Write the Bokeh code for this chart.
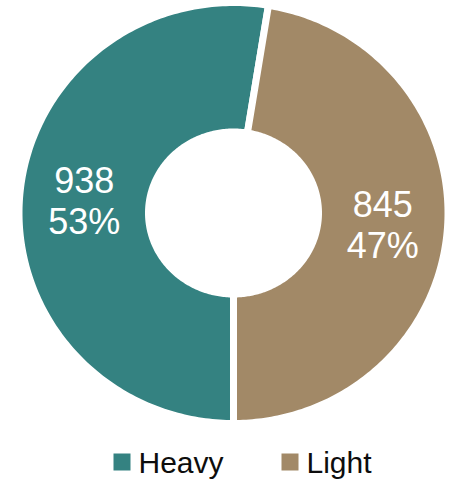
import numpy as np
from bokeh.plotting import figure
from bokeh.models import Range1d
from bokeh.core.properties import value
from bokeh.embed import file_html
from bokeh.resources import INLINE

categories = ["Heavy", "Light"]
counts = [938, 845]
colors = ["#348281", "#A28967"]

W, H = 450, 481
cx, cy = 233, 212.5
GAP = 7
rx_out, ry_out = 211 + GAP / 2, 207 + GAP / 2
rx_in, ry_in = 88.5 - GAP / 2, 84.5 - GAP / 2
start_deg = 180.0  # first slice starts at bottom, clockwise

LBL_FS = 36
LEG_FS = 30
SHIFT = 0.35  # baseline correction in em

p = figure(width=W, height=H, output_backend="svg", toolbar_location=None,
           x_range=Range1d(0, W), y_range=Range1d(H, 0), min_border=0)
p.axis.visible = False
p.grid.visible = False
p.outline_line_color = None
p.background_fill_color = "white"
p.border_fill_color = "white"

total = sum(counts)
a0 = start_deg
label_pos = []
for cat, v, col in zip(categories, counts, colors):
    span = 360.0 * v / total
    th = np.radians(np.linspace(a0, a0 + span, 200))
    xs_o = cx + rx_out * np.sin(th)
    ys_o = cy - ry_out * np.cos(th)
    xs_i = cx + rx_in * np.sin(th[::-1])
    ys_i = cy - ry_in * np.cos(th[::-1])
    xs = np.concatenate([xs_o, xs_i])
    ys = np.concatenate([ys_o, ys_i])
    p.patch(xs, ys, fill_color=col, line_color="white", line_width=GAP, line_join="miter")
    mid = np.radians(a0 + span / 2)
    rm_x = (211 + 88.5) / 2
    rm_y = (207 + 84.5) / 2
    label_pos.append((cx + rm_x * np.sin(mid), cy - rm_y * np.cos(mid)))
    a0 += span

for (lx, ly), v in zip(label_pos, counts):
    pct = f"{round(100 * v / total)}%"
    for txt, base in ((str(v), ly - 8.5), (pct, ly + 33.5)):
        p.text(x=[lx], y=[base - SHIFT * LBL_FS], text=[txt], text_align="center",
               text_baseline="alphabetic", text_color="white",
               text_font=value("Liberation Sans"), text_font_size=f"{LBL_FS}px")

# legend
leg_x = [113, 281]
for lxp, cat, col in zip(leg_x, categories, colors):
    p.rect(x=[lxp + 8.5], y=[461.5], width=17, height=17, fill_color=col, line_color=None)
    p.text(x=[lxp + 25], y=[472 - SHIFT * LEG_FS], text=[cat], text_align="left",
           text_baseline="alphabetic", text_color="#0d0d0d",
           text_font=value("Liberation Sans"), text_font_size=f"{LEG_FS}px")

open("out.html", "w").write(file_html(p, INLINE))
